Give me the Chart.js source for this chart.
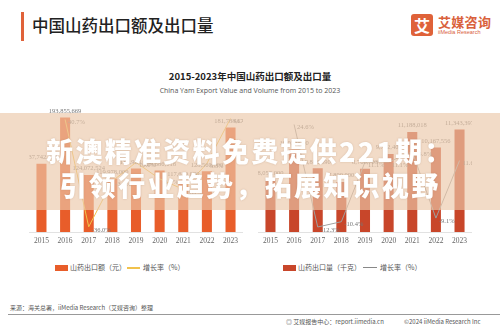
<!DOCTYPE html>
<html>
<head>
<meta charset="utf-8">
<script src="https://cdn.jsdelivr.net/npm/chart.js@4"></script>
<style>
  body { margin: 0; background: #fff; font-family: "Noto Sans CJK SC", "Noto Sans", sans-serif; }
  #page { position: relative; width: 500px; height: 325px; overflow: hidden; background: #fff; }
  .abs { position: absolute; white-space: nowrap; }
  canvas { position: absolute; }
</style>
</head>
<body>
<div id="page">
  <div class="abs" style="left:21px;top:12px;width:3px;height:29px;background:#e0623a;"></div>
  <div class="abs" style="left:32px;top:13px;font-size:16.5px;font-weight:500;color:#222;">中国山药出口额及出口量</div>

  <div class="abs" style="left:411px;top:14px;width:22px;height:22px;background:#df6239;border-radius:3px;color:#fff;font-size:16px;font-weight:700;line-height:22px;text-align:center;">艾</div>
  <div class="abs" style="left:438px;top:12px;font-size:13px;font-weight:700;color:#d9613c;letter-spacing:0.3px;">艾媒咨询</div>
  <div class="abs" style="left:438px;top:29px;font-size:5.5px;color:#d9613c;font-family:'Liberation Sans',sans-serif;">iiMedia Research</div>

  <div class="abs" style="left:0;width:500px;top:69px;text-align:center;font-size:9.5px;font-weight:700;color:#222;">2015-2023年中国山药出口额及出口量</div>
  <div class="abs" style="left:0;width:500px;top:86px;text-align:center;font-size:7px;color:#555;font-family:'Open Sans',sans-serif;">China Yam Export Value and Volume from 2015 to 2023</div>

  <canvas id="leftChart"></canvas>
  <canvas id="rightChart"></canvas>

  <!-- legends -->
  <div class="abs" style="left:55px;top:265px;width:13px;height:6px;background:#e85d2a;"></div>
  <div class="abs" style="left:70px;top:262px;font-size:7px;color:#555;">山药出口额（元）</div>
  <div class="abs" style="left:127px;top:267px;width:13px;height:1.5px;background:#f1c24c;"></div>
  <div class="abs" style="left:143px;top:262px;font-size:7px;color:#555;">增长率（%）</div>

  <div class="abs" style="left:283px;top:265px;width:13px;height:6px;background:#c8462a;"></div>
  <div class="abs" style="left:298px;top:262px;font-size:7px;color:#555;">山药出口量（千克）</div>
  <div class="abs" style="left:363px;top:267px;width:14px;height:1px;background:#888;"></div>
  <div class="abs" style="left:380px;top:262px;font-size:7px;color:#555;">增长率（%）</div>

  <!-- footer -->
  <div class="abs" style="left:10px;top:303px;font-size:6px;color:#555;">来源：海关总署，iiMedia Research（艾媒咨询）整理</div>
  <div class="abs" style="left:8px;top:314px;width:492px;height:1px;background:#999;"></div>
  <div class="abs" style="left:286px;top:317px;font-size:6px;color:#555;">◎ 艾媒报告中心：report.iimedia.cn</div>
  <div class="abs" style="left:404px;top:317px;font-size:6px;color:#555;">©2024 iiMedia Research Inc</div>

  <!-- overlay band -->
  <div class="abs" style="left:0;top:113px;width:500px;height:97px;background:rgba(236,200,170,0.66);"></div>
  <div class="abs" style="left:0;width:500px;top:131px;text-align:center;font-size:27px;font-weight:900;color:#fff;letter-spacing:2.3px;text-shadow:0 0 2px rgba(150,110,80,0.35);">新澳精准资料免费提供221期：</div>
  <div class="abs" style="left:0;width:500px;top:165px;text-align:center;font-size:27px;font-weight:900;color:#fff;letter-spacing:2.3px;text-shadow:0 0 2px rgba(150,110,80,0.35);">引领行业趋势，拓展知识视野</div>
</div>

<script>
// 数据（部分数值被水印遮挡，按图估计）
const years = ['2015', '2016', '2017', '2018', '2019', '2020', '2021', '2022', '2023'];

const valorExport = [137742274, 193855669, 124072524, 119978000, 131968000, 129686018, 117620000, 128560000, 181788675];
const crecValor = [null, 40.7, -36.0, -3.3, 10.0, -1.7, -9.3, 9.3, 41.4];

const volExport = [8052000, 10032000, 8803090, 7890000, 8768703, 9742400, 11188018, 10167556, 11343397];
const crecVol = [null, 24.6, -12.3, -10.4, 11.1, 11.1, 14.8, -9.1, 11.6];

// etiquetas sobre barras y puntos
const etiquetasPlugin = {
    id: 'etiquetas',
    afterDatasetsDraw(chart) {
        const ctx = chart.ctx;
        ctx.save();
        ctx.font = '6.5px "Liberation Serif", serif';
        ctx.fillStyle = '#777';
        chart.data.datasets.forEach((ds, i) => {
            const meta = chart.getDatasetMeta(i);
            meta.data.forEach((el, j) => {
                const v = ds.data[j];
                if (v === null) return;
                if (ds.type === 'line') {
                    ctx.textAlign = 'left';
                    ctx.textBaseline = 'middle';
                    ctx.fillText(v.toFixed(1) + '%', el.x + 3, el.y + 3);
                } else {
                    ctx.textAlign = 'center';
                    ctx.textBaseline = 'bottom';
                    ctx.fillText(v.toLocaleString('en-US'), el.x, el.y - 3);
                }
            });
        });
        ctx.restore();
    }
};

function crearGrafica(id, left, barras, colorBarra, crec, colorLinea, yMin, yMax, y1Min, y1Max) {
    const canvas = document.getElementById(id);
    canvas.style.left = left + 'px';
    canvas.style.top = '100px';
    canvas.width = 214;
    canvas.height = 151;
    return new Chart(canvas.getContext('2d'), {
        data: {
            labels: years,
            datasets: [
                {
                    type: 'line',
                    data: crec,
                    yAxisID: 'y1',
                    borderColor: colorLinea,
                    borderWidth: 1,
                    pointRadius: 0,
                    tension: 0,
                    spanGaps: false,
                    order: 0
                },
                {
                    type: 'bar',
                    data: barras,
                    yAxisID: 'y',
                    backgroundColor: colorBarra,
                    barPercentage: 0.5,
                    categoryPercentage: 0.85,
                    order: 1
                }
            ]
        },
        options: {
            responsive: false,
            animation: false,
            layout: { padding: 0 },
            plugins: { legend: { display: false }, tooltip: { enabled: false } },
            scales: {
                x: {
                    grid: { display: false, drawTicks: false },
                    border: { display: true, color: '#e2e2e2' },
                    ticks: { color: '#666', font: { size: 7.5, family: 'Liberation Serif' }, padding: 5 }
                },
                y: { display: false, min: yMin, max: yMax },
                y1: { display: false, min: y1Min, max: y1Max }
            }
        },
        plugins: [etiquetasPlugin]
    });
}

crearGrafica('leftChart', 29, valorExport, '#e85d2a', crecValor, '#f1c24c', 55000000, 215000000, -39.7, 54.6);
crearGrafica('rightChart', 258, volExport, '#c8462a', crecVol, '#a0a0a0', 4600000, 13290000, -14.1, 33.4);
</script>
</body>
</html>
